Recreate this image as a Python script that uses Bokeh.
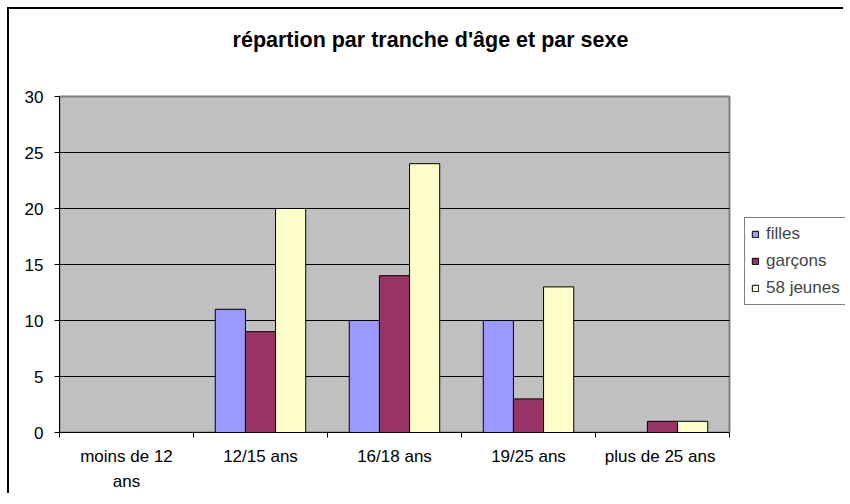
from bokeh.plotting import figure
from bokeh.models import FixedTicker, Legend, LegendItem, ColumnDataSource, Range1d, Label
from bokeh.embed import file_html
from bokeh.resources import INLINE

categories = ["moins de 12\nans", "12/15 ans", "16/18 ans", "19/25 ans", "plus de  25 ans"]
filles = [0, 11, 10, 10, 0]
garcons = [0, 9, 14, 3, 1]
jeunes = [0, 20, 24, 13, 1]
series_names = ["filles", "garçons", "58 jeunes"]
series_colors = ["#9999FF", "#993366", "#FFFFCC"]
y_ticks = [0, 5, 10, 15, 20, 25, 30]
title_text = "répartion par tranche d'âge et par sexe"

# ---- layout (pixels) ----
FONT = "Liberation Sans"
W, H = 836, 486
LEFT, BOTTOM = 50, 63
PLOT_W, PLOT_H = 670, 336          # size of the grey plot area
frame_w, frame_h = W - LEFT, H - BOTTOM
n = len(categories)
y_max = y_ticks[-1]
x_end = n * frame_w / PLOT_W
y_end = y_max * frame_h / PLOT_H
centers = [i + 0.5 for i in range(n)]
bar_w = 0.225

p = figure(width=W, height=H, output_backend="svg", toolbar_location=None,
           x_range=Range1d(0, x_end), y_range=Range1d(0, y_end),
           min_border_left=LEFT, min_border_right=0, min_border_bottom=BOTTOM, min_border_top=0)
p.styles = {"margin-left": "7px", "margin-top": "7px",
            "border-left": "2px solid #000", "border-top": "2px solid #000"}

p.background_fill_color = "white"
p.border_fill_color = "white"
p.outline_line_color = None
p.xgrid.grid_line_color = None
p.ygrid.grid_line_color = None

# grey plot area + horizontal grid lines
p.quad(left=[0], right=[n], bottom=[y_ticks[0]], top=[y_max],
       fill_color="#C0C0C0", line_color="#808080", line_width=2)
p.segment(x0=[0] * (len(y_ticks) - 2), x1=[n] * (len(y_ticks) - 2),
          y0=y_ticks[1:-1], y1=y_ticks[1:-1], line_color="black", line_width=1)

offsets = [-bar_w, 0.0, bar_w]
renderers = []
for vals, off, col in zip([filles, garcons, jeunes], offsets, series_colors):
    src = ColumnDataSource(dict(x=[c + off for c in centers], top=vals))
    r = p.vbar(x="x", top="top", bottom=0, width=bar_w, source=src,
               fill_color=col, line_color="black", line_width=1)
    renderers.append(r)

p.xaxis.bounds = (0, n)
p.xaxis.ticker = FixedTicker(ticks=centers, minor_ticks=list(range(n + 1)))
p.xaxis.major_label_overrides = {c: lab for c, lab in zip(centers, categories)}
p.xaxis.major_tick_line_color = None
p.xaxis.major_tick_out = 6
p.xaxis.minor_tick_line_color = "black"
p.xaxis.minor_tick_out = 5
p.xaxis.minor_tick_in = 0
p.xaxis.major_label_standoff = 8
p.xaxis.major_label_text_line_height = 1.35

p.yaxis.bounds = (0, y_max)
p.yaxis.ticker = FixedTicker(ticks=y_ticks)
p.yaxis.major_tick_out = 5
p.yaxis.major_tick_in = 0
p.yaxis.minor_tick_line_color = None
p.yaxis.major_label_standoff = 11

for ax in (p.xaxis, p.yaxis):
    ax.axis_line_color = "black"
    ax.major_label_text_font = FONT
    ax.major_label_text_font_size = "17px"
    ax.major_label_text_color = "black"

title = Label(x=419, y=28, x_units="canvas", y_units="canvas", text=title_text,
              text_font=FONT, text_font_size="21.5px", text_font_style="bold",
              text_color="black", text_align="center", text_baseline="middle")
p.add_layout(title)

legend = Legend(items=[LegendItem(label=nm, renderers=[r]) for nm, r in zip(series_names, renderers)],
                location=(685, 127), glyph_width=8, glyph_height=8, label_height=17,
                spacing=7, padding=6, label_standoff=7, label_width=72, margin=0,
                label_text_font=FONT, label_text_font_size="17px",
                border_line_color="black", border_line_width=1,
                background_fill_color="white", background_fill_alpha=1)
p.add_layout(legend)

open("out.html", "w").write(file_html(p, INLINE))
